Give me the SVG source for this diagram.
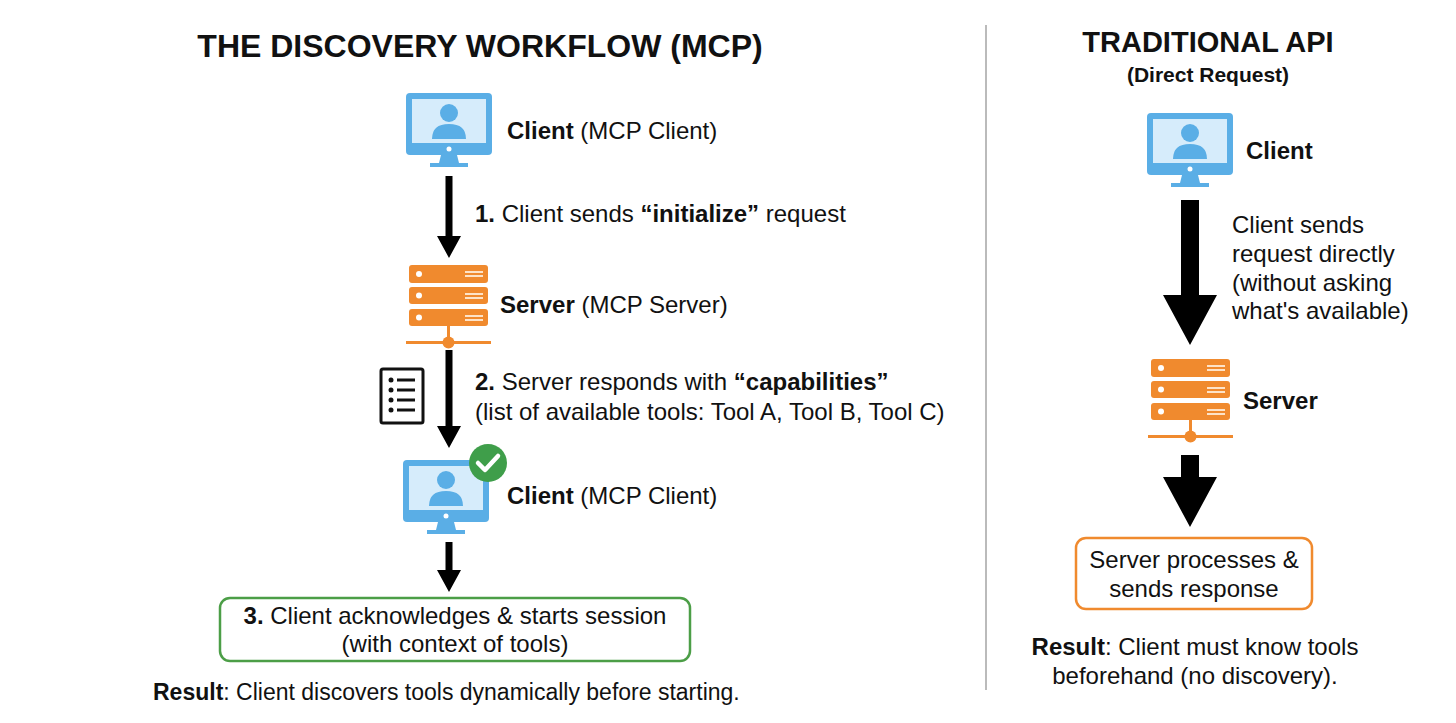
<svg xmlns="http://www.w3.org/2000/svg" width="1456" height="723" viewBox="0 0 1456 723">
<defs>
<style>
text{font-family:"Liberation Sans",Arial,sans-serif;fill:#111}
.t{font-size:24px}
.b{font-weight:bold}
.h{font-size:32px;font-weight:bold}
.mon{fill:#5aaee6}
.scr{fill:#d6ecfb}
.srv{fill:#f08a2e}
.dot{fill:#fff}
</style>
<g id="monitor">
<rect class="mon" x="0" y="0" width="86" height="62" rx="4"/>
<rect class="scr" x="6" y="6" width="74" height="44"/>
<circle class="mon" cx="43" cy="20" r="9"/>
<path class="mon" d="M26 46 Q26 31 43 31 Q60 31 60 46 Z"/>
<circle class="dot" cx="43" cy="56" r="2.5"/>
<path class="mon" d="M35 62 L51 62 L53 70 L62 70 L62 74 L24 74 L24 70 L33 70 Z"/>
</g>
<g id="server">
<rect class="srv" x="0" y="0" width="79" height="18" rx="3"/>
<rect class="srv" x="0" y="22" width="79" height="17" rx="3"/>
<rect class="srv" x="0" y="44" width="79" height="17" rx="3"/>
<circle class="dot" cx="10" cy="9" r="3"/><circle class="dot" cx="10" cy="30.5" r="3"/><circle class="dot" cx="10" cy="52.5" r="3"/>
<g fill="#fde3c8"><rect x="56" y="6" width="18" height="2"/><rect x="56" y="10" width="18" height="2"/><rect x="56" y="28" width="18" height="2"/><rect x="56" y="32" width="18" height="2"/><rect x="56" y="50" width="18" height="2"/><rect x="56" y="54" width="18" height="2"/></g>
<rect class="srv" x="38" y="61" width="3" height="12"/>
<rect class="srv" x="-3" y="76" width="85" height="3"/>
<circle class="srv" cx="39.5" cy="77.5" r="6"/>
</g>
</defs>
<rect width="1456" height="723" fill="#fff"/>
<line x1="986" y1="25" x2="986" y2="690" stroke="#bbb" stroke-width="2"/>
<text class="h" x="480" y="57" text-anchor="middle">THE DISCOVERY WORKFLOW (MCP)</text>
<text class="h" x="1208" y="52" text-anchor="middle" style="font-size:29px">TRADITIONAL API</text>
<text class="b" x="1208" y="82" text-anchor="middle" style="font-size:21px">(Direct Request)</text>

<g id="connectors" fill="#000">
<path d="M445.5 176 H452.5 V236 H461 L449 258 L437 236 H445.5 Z"/>
<path d="M445.5 350 H452.5 V426 H461 L449 448 L437 426 H445.5 Z"/>
<path d="M445.5 542 H452.5 V570 H461 L449 592 L437 570 H445.5 Z"/>
<path d="M1181 200 H1199 V295 H1217 L1190 345 L1163 295 H1181 Z"/>
<path d="M1181 455 H1199 V477 H1217 L1190 527 L1163 477 H1181 Z"/>
</g>

<g id="client1"><use href="#monitor" x="406" y="93"/><text class="t" x="507" y="139"><tspan class="b">Client</tspan> (MCP Client)</text></g>
<g id="label1"><text class="t" x="475" y="222"><tspan class="b">1.</tspan> Client sends <tspan class="b">“initialize”</tspan> request</text></g>
<g id="server1"><use href="#server" x="409" y="265"/><text class="t" x="500" y="313"><tspan class="b">Server</tspan> (MCP Server)</text></g>
<g id="label2">
<rect x="381" y="369" width="42" height="54" fill="none" stroke="#111" stroke-width="3" rx="2"/>
<g fill="#111"><circle cx="391" cy="380" r="2.5"/><circle cx="391" cy="390" r="2.5"/><circle cx="391" cy="400" r="2.5"/><circle cx="391" cy="410" r="2.5"/>
<rect x="397" y="378.5" width="18" height="3"/><rect x="397" y="388.5" width="18" height="3"/><rect x="397" y="398.5" width="18" height="3"/><rect x="397" y="408.5" width="18" height="3"/></g>
<text class="t" x="475" y="390"><tspan class="b">2.</tspan> Server responds with <tspan class="b">“capabilities”</tspan></text>
<text class="t" x="475" y="420">(list of available tools: Tool A, Tool B, Tool C)</text></g>
<g id="client2"><use href="#monitor" x="403" y="460"/>
<circle cx="488" cy="463" r="19" fill="#3f9e4a"/><path d="M478 463 L485 470 L498 456" stroke="#fff" stroke-width="4.5" fill="none" stroke-linecap="round" stroke-linejoin="round"/>
<text class="t" x="507" y="504"><tspan class="b">Client</tspan> (MCP Client)</text></g>
<g id="step3"><rect x="220" y="598" width="470" height="63" rx="10" fill="#fff" stroke="#4c9e47" stroke-width="2.5"/>
<text class="t" x="455" y="624" text-anchor="middle"><tspan class="b">3.</tspan> Client acknowledges &amp; starts session</text>
<text class="t" x="455" y="652" text-anchor="middle">(with context of tools)</text></g>
<g id="result1"><text class="t" x="153" y="700" style="font-size:23px"><tspan class="b">Result</tspan>: Client discovers tools dynamically before starting.</text></g>

<g id="client3"><use href="#monitor" x="1147" y="113"/><text class="t b" x="1246" y="159">Client</text></g>
<g id="label3"><text class="t" x="1232" y="233">Client sends</text><text class="t" x="1232" y="262">request directly</text><text class="t" x="1232" y="291">(without asking</text><text class="t" x="1232" y="319">what's available)</text></g>
<g id="server2"><use href="#server" x="1151" y="359"/><text class="t b" x="1243" y="409">Server</text></g>
<g id="resp"><rect x="1076" y="538" width="236" height="71" rx="10" fill="#fff" stroke="#f08a2e" stroke-width="2.5"/>
<text class="t" x="1194" y="568" text-anchor="middle">Server processes &amp;</text><text class="t" x="1194" y="597" text-anchor="middle">sends response</text></g>
<g id="result2"><text class="t" x="1195" y="655" text-anchor="middle"><tspan class="b">Result</tspan>: Client must know tools</text><text class="t" x="1195" y="684" text-anchor="middle">beforehand (no discovery).</text></g>
</svg>
